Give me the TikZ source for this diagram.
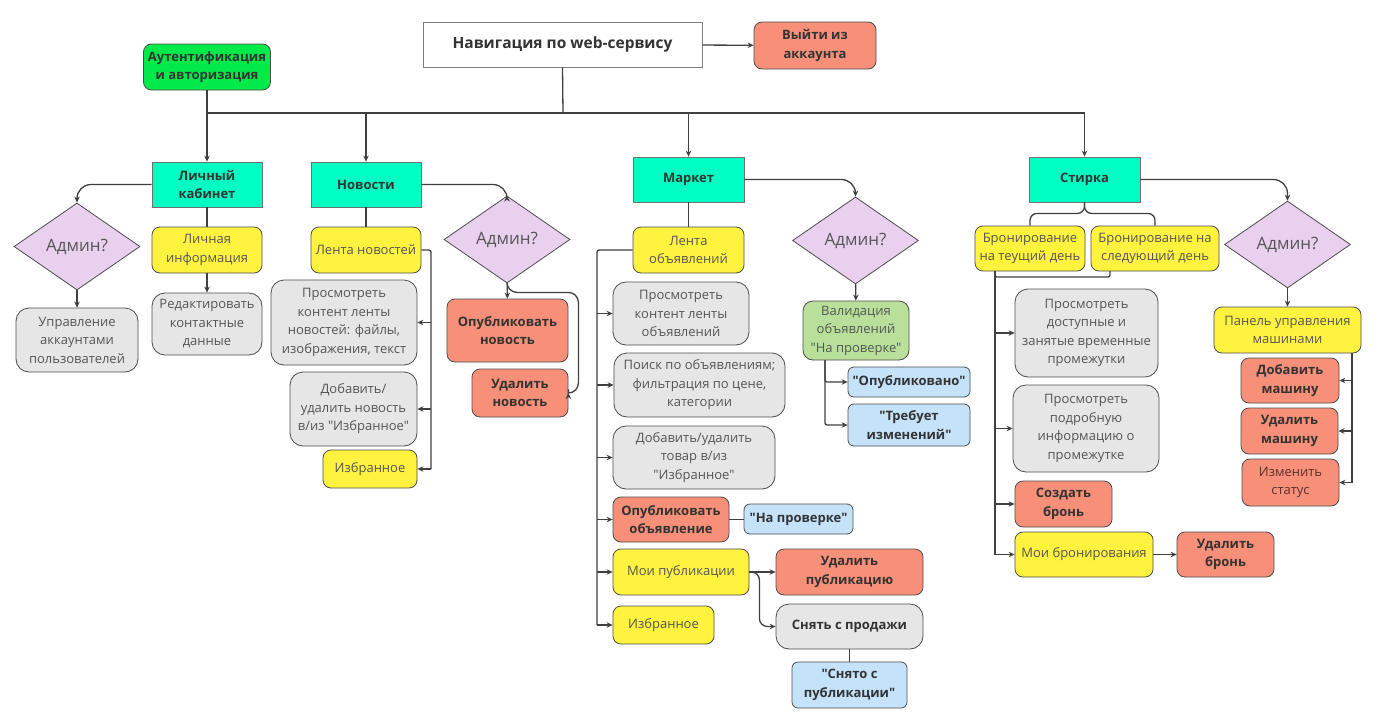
\documentclass[tikz,border=0pt]{standalone}
\usepackage{fontspec}
\setmainfont{Open Sans}[Ligatures=TeXOff]
\usepackage{tikz}
\usepackage{xcolor}
\usetikzlibrary{shapes.geometric,arrows.meta}
\definecolor{tealc}{HTML}{00FFC2}
\definecolor{authc}{HTML}{00EA4A}
\definecolor{yelc}{HTML}{FFF340}
\definecolor{redc}{HTML}{F89079}
\definecolor{grayc}{HTML}{E6E6E6}
\definecolor{lilac}{HTML}{E8D0EE}
\definecolor{bluec}{HTML}{C4E3FA}
\definecolor{greenc}{HTML}{B8E09A}
\definecolor{edgec}{HTML}{404040}
\definecolor{bordc}{HTML}{4D4D4D}
\definecolor{darktxt}{HTML}{333333}
\definecolor{softtxt}{HTML}{555555}

\begin{document}
\begin{tikzpicture}[x=1pt, y=-1pt,
  sz/.style 2 args={minimum width=#1, minimum height=#2},
  box/.style={draw=bordc, line width=0.8pt, align=center, inner sep=1pt,
    text=softtxt, font=\fontsize{13}{18.5}\selectfont},
  boldbox/.style={box, text=darktxt, font=\fontsize{13}{18.5}\selectfont\bfseries},
  sectbox/.style={boldbox, fill=tealc, draw=bordc!80},
  yelbox/.style={box, fill=yelc, rounded corners=8pt},
  graybox/.style={box, fill=grayc, rounded corners=13pt},
  redbox/.style={boldbox, fill=redc, rounded corners=8pt},
  bluebox/.style={boldbox, fill=bluec, rounded corners=6pt},
  admin/.style={diamond, draw=bordc, line width=0.8pt, fill=lilac, inner sep=0pt,
    text=softtxt, font=\fontsize{17}{20}\selectfont, sz={126}{87}},
  line/.style={draw=edgec, line width=1.3pt},
  arr/.style={line, -{Stealth[length=6pt, width=5.5pt]}}]

\fill[white] (0,0) rectangle (1387,720);
\useasboundingbox (0,0) rectangle (1387,720);

\node[box, draw=black!50, text=darktxt, font=\fontsize{15.5}{18}\selectfont\bfseries, sz={279}{45}] (title) at (562.5,44.5) {Навигация по web-сервису};
\node[redbox, sz={122}{47}] (logout) at (815,45.5) {Выйти из\\аккаунта};
\node[boldbox, fill=authc, rounded corners=8pt, sz={127}{46}] (auth) at (207,67) {Аутентификация\\и авторизация};

\node[sectbox, sz={110}{45}] (lk) at (207,184.5) {Личный\\кабинет};
\node[sectbox, sz={110}{45}] (news) at (366,184.5) {Новости};
\node[sectbox, sz={111}{45}] (market) at (688.5,179.5) {Маркет};
\node[sectbox, sz={111}{45}] (wash) at (1084.5,179.5) {Стирка};

\node[admin] (admlk) at (77,246.5) {Админ?};
\node[admin] (admnews) at (507,239.5) {Админ?};
\node[admin] (admmarket) at (855.5,240.5) {Админ?};
\node[admin] (admwash) at (1287.5,244.5) {Админ?};

\node[graybox, sz={122}{64}] (users) at (77,340) {Управление\\аккаунтами\\пользователей};
\node[yelbox, sz={110}{46}] (info) at (207,250) {Личная\\информация};
\node[graybox, sz={110}{62}] (contacts) at (207,324) {Редактировать\\контактные\\данные};

\node[yelbox, sz={110}{46}] (feed) at (366,250) {Лента новостей};
\node[graybox, sz={146}{85}] (feedview) at (344,322.5) {Просмотреть\\контент ленты\\новостей: файлы,\\изображения, текст};
\node[graybox, sz={127}{74}] (feedfav) at (353.5,409) {Добавить/\\удалить новость\\в/из "Избранное"};
\node[yelbox, sz={94}{38}] (newsfav) at (370,469) {Избранное};
\node[redbox, sz={121}{63}] (newspub) at (507.5,330.5) {Опубликовать\\новость};
\node[redbox, sz={96}{48}] (newsdel) at (520,393) {Удалить\\новость};

\node[yelbox, sz={111}{46}] (ads) at (688.5,250) {Лента\\объявлений};
\node[graybox, sz={136}{63}] (adsview) at (681,313.5) {Просмотреть\\контент ленты\\объявлений};
\node[graybox, sz={171}{64}] (search) at (699.5,385) {Поиск по объявлениям;\\фильтрация по цене,\\категории};
\node[graybox, sz={162}{63}] (itemfav) at (694,457.5) {Добавить/удалить\\товар в/из\\"Избранное"};
\node[redbox, sz={116}{45}] (adpub) at (671,519.5) {Опубликовать\\объявление};
\node[bluebox, sz={109}{30}] (review) at (798.5,519) {"На проверке"};
\node[yelbox, sz={136}{46}] (mypub) at (681,572) {Мои публикации};
\node[yelbox, sz={101}{38}] (adsfav) at (663.5,625) {Избранное};
\node[redbox, sz={147}{46}] (pubdel) at (849.5,572) {Удалить\\публикацию};
\node[graybox, boldbox, sz={147}{45}] (unsell) at (849.5,626.5) {Снять с продажи};
\node[bluebox, sz={115}{46}] (unpub) at (849.5,685) {"Снято с\\публикации"};

\node[box, fill=greenc, rounded corners=10pt, sz={106}{59}] (valid) at (856,330.5) {Валидация\\объявлений\\"На проверке"};
\node[bluebox, sz={122}{30}] (published) at (909,382) {"Опубликовано"};
\node[bluebox, sz={122}{42}] (changes) at (909,425) {"Требует\\изменений"};

\node[yelbox, sz={110}{45}] (today) at (1030,248.5) {Бронирование\\на теущий день};
\node[yelbox, sz={128}{45}] (tomorrow) at (1155,248.5) {Бронирование на\\следующий день};
\node[graybox, sz={143}{88}] (slots) at (1086.5,333) {Просмотреть\\доступные и\\занятые временные\\промежутки};
\node[graybox, sz={146}{87}] (slotinfo) at (1086,428.5) {Просмотреть\\подробную\\информацию о\\промежутке};
\node[redbox, sz={97}{46}] (book) at (1063.5,504) {Создать\\бронь};
\node[yelbox, sz={138}{45}] (mybook) at (1084,554.5) {Мои бронирования};
\node[redbox, sz={97}{45}] (bookdel) at (1225.5,554.5) {Удалить\\бронь};

\node[yelbox, sz={147}{46}] (panel) at (1287.5,330) {Панель управления\\машинами};
\node[redbox, sz={98}{45}] (caradd) at (1290,380.5) {Добавить\\машину};
\node[redbox, sz={97}{46}] (cardel) at (1289.5,431) {Удалить\\машину};
\node[box, fill=redc, rounded corners=8pt, text=black!65!redc, sz={97}{47}] (status) at (1290.5,482.5) {Изменить\\статус};

\coordinate (bus) at (563,113);
\coordinate (nbus) at (431,250);
\coordinate (mbus) at (597,250);
\coordinate (vbus) at (825,360);
\coordinate (bbus) at (995,271);
\coordinate (bbus2) at (1110,271);
\coordinate (pbus) at (1352,353);

\draw[arr] (title) -- (logout);
\draw[line] (title.south) -- (bus);
\draw[line] (auth.south |- bus) -- (wash.north |- bus);
\draw[arr] (auth) -- (lk);
\draw[arr] (news.north |- bus) -- (news.north);
\draw[arr] (market.north |- bus) -- (market.north);
\draw[arr] (wash.north |- bus) -- (wash.north);

\draw[arr, rounded corners=14pt] (lk.west) -| (admlk.north);
\draw[arr, rounded corners=14pt] (news.east) -| (admnews.north);
\draw[arr, rounded corners=14pt] (market.east) -| (admmarket.north);
\draw[arr, rounded corners=14pt] (wash.east) -| (admwash.north);

\draw[arr] (admlk) -- (users);
\draw[line] (lk) -- (info);
\draw[arr] (info) -- (contacts);

\draw[line] (news) -- (feed);
\draw[line, rounded corners=2pt] (feed.east) -- (nbus) -- (nbus |- newsfav.east);
\draw[arr] (nbus |- feedview.east) -- (feedview.east);
\draw[arr] (nbus |- feedfav.east) -- (feedfav.east);
\draw[arr] (nbus |- newsfav.east) -- (newsfav.east);
\draw[arr] (admnews) -- (newspub);
\draw[arr, rounded corners=10pt] (admnews.south) -- ++(0,9) -| ([xshift=10pt]newsdel.north east) |- (newsdel.east);

\draw[line] (market) -- (ads);
\draw[line, rounded corners=2pt] (ads.west) -- (mbus) -- (mbus |- adsfav.west);
\draw[arr] (mbus |- adsview.west) -- (adsview.west);
\draw[arr] (mbus |- search.west) -- (search.west);
\draw[arr] (mbus |- itemfav.west) -- (itemfav.west);
\draw[arr] (mbus |- adpub.west) -- (adpub.west);
\draw[arr] (mbus |- mypub.west) -- (mypub.west);
\draw[arr] (mbus |- adsfav.west) -- (adsfav.west);
\draw[line] (adpub.east) -- (adpub.east -| review.west);
\draw[arr] (mypub.east) -- (pubdel.west |- mypub.east);
\draw[arr, rounded corners=8pt] (mypub.east) -- ++(10,0) |- (unsell.west);
\draw[line] (unsell) -- (unpub);

\draw[arr] (admmarket) -- (valid);
\draw[arr, rounded corners=2pt] (vbus) |- (published.west);
\draw[arr, rounded corners=2pt] (vbus) |- (changes.west);

\draw[line, rounded corners=7pt] (wash.south) -- ++(0,11) -| (today.north);
\draw[line, rounded corners=7pt] (wash.south) -- ++(0,11) -| (tomorrow.north);
\draw[line, rounded corners=2pt] (bbus2) -- ++(0,6) -| (bbus);
\draw[line] (bbus) -- (bbus |- mybook.west);
\draw[arr] (bbus |- slots.west) -- (slots.west);
\draw[arr] (bbus |- slotinfo.west) -- (slotinfo.west);
\draw[arr] (bbus |- book.west) -- (book.west);
\draw[arr] (bbus |- mybook.west) -- (mybook.west);
\draw[arr] (mybook) -- (bookdel);

\draw[arr] (admwash) -- (panel);
\draw[line] (pbus) -- (pbus |- status.east);
\draw[arr] (pbus |- caradd.east) -- (caradd.east);
\draw[arr] (pbus |- cardel.east) -- (cardel.east);
\draw[arr] (pbus |- status.east) -- (status.east);
\end{tikzpicture}
\end{document}
